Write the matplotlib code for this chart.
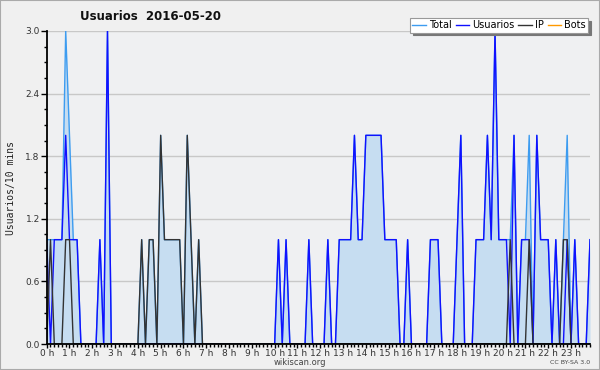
import numpy as np
from matplotlib import pyplot as plt
from matplotlib.ticker import MultipleLocator, FixedLocator

# Values per 10 minutes (144 slots)
usuarios = [
    1, 0, 1, 1, 1, 2, 1, 1, 1, 0,
    0, 0, 0, 0, 1, 0, 3, 0, 0, 0,
    0, 0, 0, 0, 0, 0, 0, 0, 0, 0,
    0, 0, 0, 0, 0, 0, 0, 0, 0, 0,
    0, 0, 0, 0, 0, 0, 0, 0, 0, 0,
    0, 0, 0, 0, 0, 0, 0, 0, 0, 0,
    0, 1, 0, 1, 0, 0, 0, 0, 0, 1,
    0, 0, 0, 0, 1, 0, 0, 1, 1, 1,
    1, 2, 1, 1, 2, 2, 2, 2, 2, 1,
    1, 1, 1, 0, 0, 1, 0, 0, 0, 0,
    0, 1, 1, 1, 0, 0, 0, 0, 1, 2,
    0, 0, 0, 1, 1, 1, 2, 1, 3, 1,
    1, 1, 0, 2, 0, 1, 1, 1, 0, 2,
    1, 1, 1, 0, 1, 0, 0, 1, 0, 1,
    0, 0, 0, 1,
]

ip = [
    0, 1, 0, 0, 0, 1, 1, 0, 0, 0,
    0, 0, 0, 0, 0, 0, 0, 0, 0, 0,
    0, 0, 0, 0, 0, 1, 0, 1, 1, 0,
    2, 1, 1, 1, 1, 1, 0, 2, 1, 0,
    1, 0, 0, 0, 0, 0, 0, 0, 0, 0,
    0, 0, 0, 0, 0, 0, 0, 0, 0, 0,
    0, 0, 0, 0, 0, 0, 0, 0, 0, 0,
    0, 0, 0, 0, 0, 0, 0, 0, 0, 0,
    0, 0, 0, 0, 0, 0, 0, 0, 0, 0,
    0, 0, 0, 0, 0, 0, 0, 0, 0, 0,
    0, 0, 0, 0, 0, 0, 0, 0, 0, 0,
    0, 0, 0, 0, 0, 0, 0, 0, 0, 0,
    0, 0, 1, 0, 0, 0, 0, 1, 0, 0,
    0, 0, 0, 0, 0, 0, 1, 1, 0, 0,
    0, 0, 0, 0,
]

total = [
    1, 1, 1, 1, 1, 3, 2, 1, 1, 0,
    0, 0, 0, 0, 1, 0, 3, 0, 0, 0,
    0, 0, 0, 0, 0, 1, 0, 1, 1, 0,
    2, 1, 1, 1, 1, 1, 0, 2, 1, 0,
    1, 0, 0, 0, 0, 0, 0, 0, 0, 0,
    0, 0, 0, 0, 0, 0, 0, 0, 0, 0,
    0, 1, 0, 1, 0, 0, 0, 0, 0, 1,
    0, 0, 0, 0, 1, 0, 0, 1, 1, 1,
    1, 2, 1, 1, 2, 2, 2, 2, 2, 1,
    1, 1, 1, 0, 0, 1, 0, 0, 0, 0,
    0, 1, 1, 1, 0, 0, 0, 0, 1, 2,
    0, 0, 0, 1, 1, 1, 2, 1, 3, 1,
    1, 1, 1, 2, 0, 1, 1, 2, 0, 2,
    1, 1, 1, 0, 1, 0, 1, 2, 0, 1,
    0, 0, 0, 1,
]

bots = [0] * 144

hour_labels = ['%d h' % h for h in range(24)]
y_ticks = [0.0, 0.6, 1.2, 1.8, 2.4, 3.0]

colors = {
    'Total': '#3d9cf0',
    'Usuarios': '#1010ff',
    'IP': '#333333',
    'Bots': '#ff9900',
}

fig = plt.figure(figsize=(6, 3.7), dpi=100, facecolor='#f0f0f0')
ax = fig.add_axes([46.7 / 600, 1 - 344 / 370, (590 - 46.7) / 600, (344 - 31) / 370])
ax.set_facecolor('#eff0f2')

x = np.arange(len(total))

# Fill under the total series
ax.fill_between(x, 0, total, color='#c6ddf1', lw=0, zorder=1)

ax.plot(x, total, color=colors['Total'], lw=1.0, label='Total', zorder=2)
ax.plot(x, usuarios, color=colors['Usuarios'], lw=1.0, label='Usuarios', zorder=2.1)
ax.plot(x, ip, color=colors['IP'], lw=1.0, label='IP', zorder=2.2)
ax.plot(x, bots, color=colors['Bots'], lw=1.0, label='Bots', zorder=0.5)

ax.set_xlim(0, len(total) - 1)
ax.set_ylim(0, 3.0)

# Axes styling
for side in ['top', 'right']:
    ax.spines[side].set_visible(False)
for side in ['left', 'bottom']:
    ax.spines[side].set_color('black')
    ax.spines[side].set_linewidth(1.3)
    ax.spines[side].set_zorder(3)

ax.yaxis.set_major_locator(FixedLocator(y_ticks))
ax.set_yticklabels(['%.1f' % v for v in y_ticks])
ax.yaxis.set_minor_locator(MultipleLocator(0.15))
ax.xaxis.set_major_locator(FixedLocator(list(range(0, 144, 6))))
ax.set_xticklabels(hour_labels)
ax.xaxis.set_minor_locator(MultipleLocator(1))

ax.tick_params(axis='both', which='major', length=3, width=1, labelsize=6.5, pad=0.5, colors='black')
ax.tick_params(axis='both', which='minor', length=2.5, width=1)
ax.tick_params(axis='y', which='major', length=4, pad=1)
ax.tick_params(axis='x', labelcolor='#333333')
ax.tick_params(axis='y', labelcolor='#333333')

ax.set_axisbelow(True)
ax.grid(axis='y', color='#c8c8c8', lw=1)

# Texts
fig.text(150 / 600, 1 - 16 / 370, 'Usuarios  2016-05-20', ha='center', va='center',
         fontsize=8.5, fontweight='bold', color='#111111')
fig.text(11 / 600, 0.493, 'Usuarios/10 mins', rotation=90, ha='center', va='center',
         fontsize=7, color='#222222', family='DejaVu Sans Mono')
fig.text(0.5, 1 - 362.5 / 370, 'wikiscan.org', ha='center', va='center', fontsize=6, color='#444444')
fig.text(590 / 600, 1 - 362.5 / 370, 'CC BY-SA 3.0', ha='right', va='center', fontsize=4.5, color='#444444')

leg = fig.legend(loc='upper right', bbox_to_anchor=(593 / 600, 1 - 13 / 370), ncol=4,
                 fontsize=7, handlelength=1.4, handletextpad=0.3, columnspacing=0.4,
                 borderpad=0.25, fancybox=False, shadow={'color': '#777777', 'alpha': 1},
                 framealpha=1, edgecolor='#999999')
leg.get_frame().set_linewidth(0.8)

# Outer border
fig.patches.append(plt.Rectangle((0, 0), 1, 1, transform=fig.transFigure, fill=False,
                                 edgecolor='#aaaaaa', lw=1.5))

plt.savefig('out.png', dpi=100, facecolor=fig.get_facecolor())
